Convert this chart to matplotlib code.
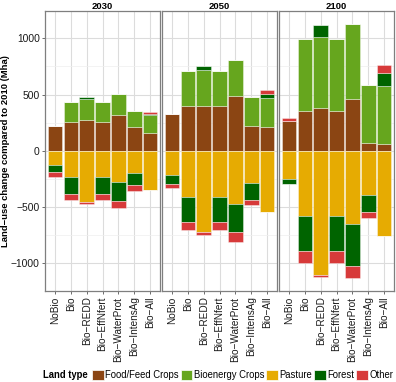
import numpy as np
import matplotlib
matplotlib.use("Agg")
import matplotlib.pyplot as plt
from matplotlib.patches import Patch
from matplotlib.ticker import MultipleLocator

plt.rcParams['font.family'] = ['Liberation Sans', 'DejaVu Sans']

scenarios = ['NoBio', 'Bio', 'Bio\u2212REDD', 'Bio\u2212EffNfert', 'Bio\u2212WaterProt',
             'Bio\u2212IntensAg', 'Bio\u2212All']
years = ['2030', '2050', '2100']

land_types = ['Food/Feed Crops', 'Bioenergy Crops', 'Pasture', 'Forest', 'Other']
land_colors = ['#8B4513', '#66A61E', '#E6AB02', '#006400', '#D73A3A']

# land-use change vs 2010 (Mha), one list per land type and year
food = {'2030': [224, 257, 274, 257, 319, 210, 159],
        '2050': [327, 401, 401, 398, 487, 224, 210],
        '2100': [265, 357, 381, 357, 463, 71, 62]}
bioenergy = {'2030': [0, 179, 186, 179, 188, 141, 157],
             '2050': [0, 310, 316, 307, 318, 254, 259],
             '2100': [0, 634, 631, 634, 667, 516, 513]}
pasture = {'2030': [-130, -233, -451, -233, -280, -195, -348],
           '2050': [-218, -407, -726, -407, -472, -286, -540],
           '2100': [-251, -581, -1106, -581, -649, -389, -758]}
forest = {'2030': [-62, -150, 15, -150, -162, -112, 14],
          '2050': [-77, -227, 33, -227, -254, -154, 35],
          '2100': [-41, -310, 109, -310, -375, -154, 115]}
other = {'2030': [-38, -54, -24, -54, -68, -47, 18],
         '2050': [-32, -74, -24, -74, -82, -44, 36],
         '2100': [27, -103, -18, -103, -106, -53, 68]}

W, H = 396, 382
fig = plt.figure(figsize=(W / 100, H / 100), dpi=100)

panel_x = [45.3, 162.3, 279.3]
panel_w = 114.5
top_px, bot_px = 10.7, 291.0

x = np.arange(len(scenarios))
for k, yr in enumerate(years):
    ax = fig.add_axes([panel_x[k] / W, (H - bot_px) / H, panel_w / W, (bot_px - top_px) / H])
    series = [food[yr], bioenergy[yr], pasture[yr], forest[yr], other[yr]]
    pos_base = np.zeros(len(x))
    neg_base = np.zeros(len(x))
    for vals, col in zip(series, land_colors):
        v = np.array(vals, dtype=float)
        p = np.where(v > 0, v, 0)
        n = np.where(v < 0, v, 0)
        ax.bar(x, p, 0.9, bottom=pos_base, color=col, edgecolor=(1, 1, 1, 0.45),
               linewidth=0.6, zorder=3)
        ax.bar(x, n, 0.9, bottom=neg_base, color=col, edgecolor=(1, 1, 1, 0.45),
               linewidth=0.6, zorder=3)
        pos_base += p
        neg_base += n

    ax.set_xlim(-0.6, 6.6)
    ax.set_ylim(-1246, 1245)
    ax.set_xticks(x)
    ax.set_xticklabels(scenarios, rotation=90, fontsize=7.2, color='#1a1a1a')
    ax.yaxis.set_major_locator(MultipleLocator(500))
    ax.yaxis.set_minor_locator(MultipleLocator(250))
    ax.grid(which='major', color='#dcdcdc', linewidth=0.8, zorder=0)
    ax.grid(which='minor', axis='y', color='#efefef', linewidth=0.5, zorder=0)
    ax.set_axisbelow(True)
    ax.tick_params(axis='both', which='major', length=2.5, width=0.6, color='#555555', pad=1.5)
    ax.tick_params(axis='y', which='minor', length=0)
    if k == 0:
        ax.tick_params(axis='y', labelsize=7.4, labelcolor='#1a1a1a')
    else:
        ax.tick_params(axis='y', which='major', length=0, labelleft=False)
    for s in ax.spines.values():
        s.set_color('#7f7f7f')
        s.set_linewidth(0.9)
    ax.set_title(yr, fontsize=6.8, fontweight='bold', pad=1.5)

fig.text(5.5 / W, 1 - 151 / H, 'Land\u2212use change compared to 2010 (Mha)', rotation=90,
         ha='center', va='center', fontsize=6.8, fontweight='bold')

handles = [Patch(facecolor=c, edgecolor='white', linewidth=0.5) for c in land_colors]
fig.legend(handles, land_types, loc='center left', bbox_to_anchor=(91.7 / W, 1 - 375 / H),
           ncol=5, frameon=False, fontsize=6.85, handlelength=1.25, handleheight=1.25,
           handletextpad=0.15, columnspacing=0.2, borderpad=0, borderaxespad=0)
fig.text(43.3 / W, 1 - 375 / H, 'Land type', ha='left', va='center', fontsize=6.85,
         fontweight='bold')

fig.savefig('out.png', dpi=100)
